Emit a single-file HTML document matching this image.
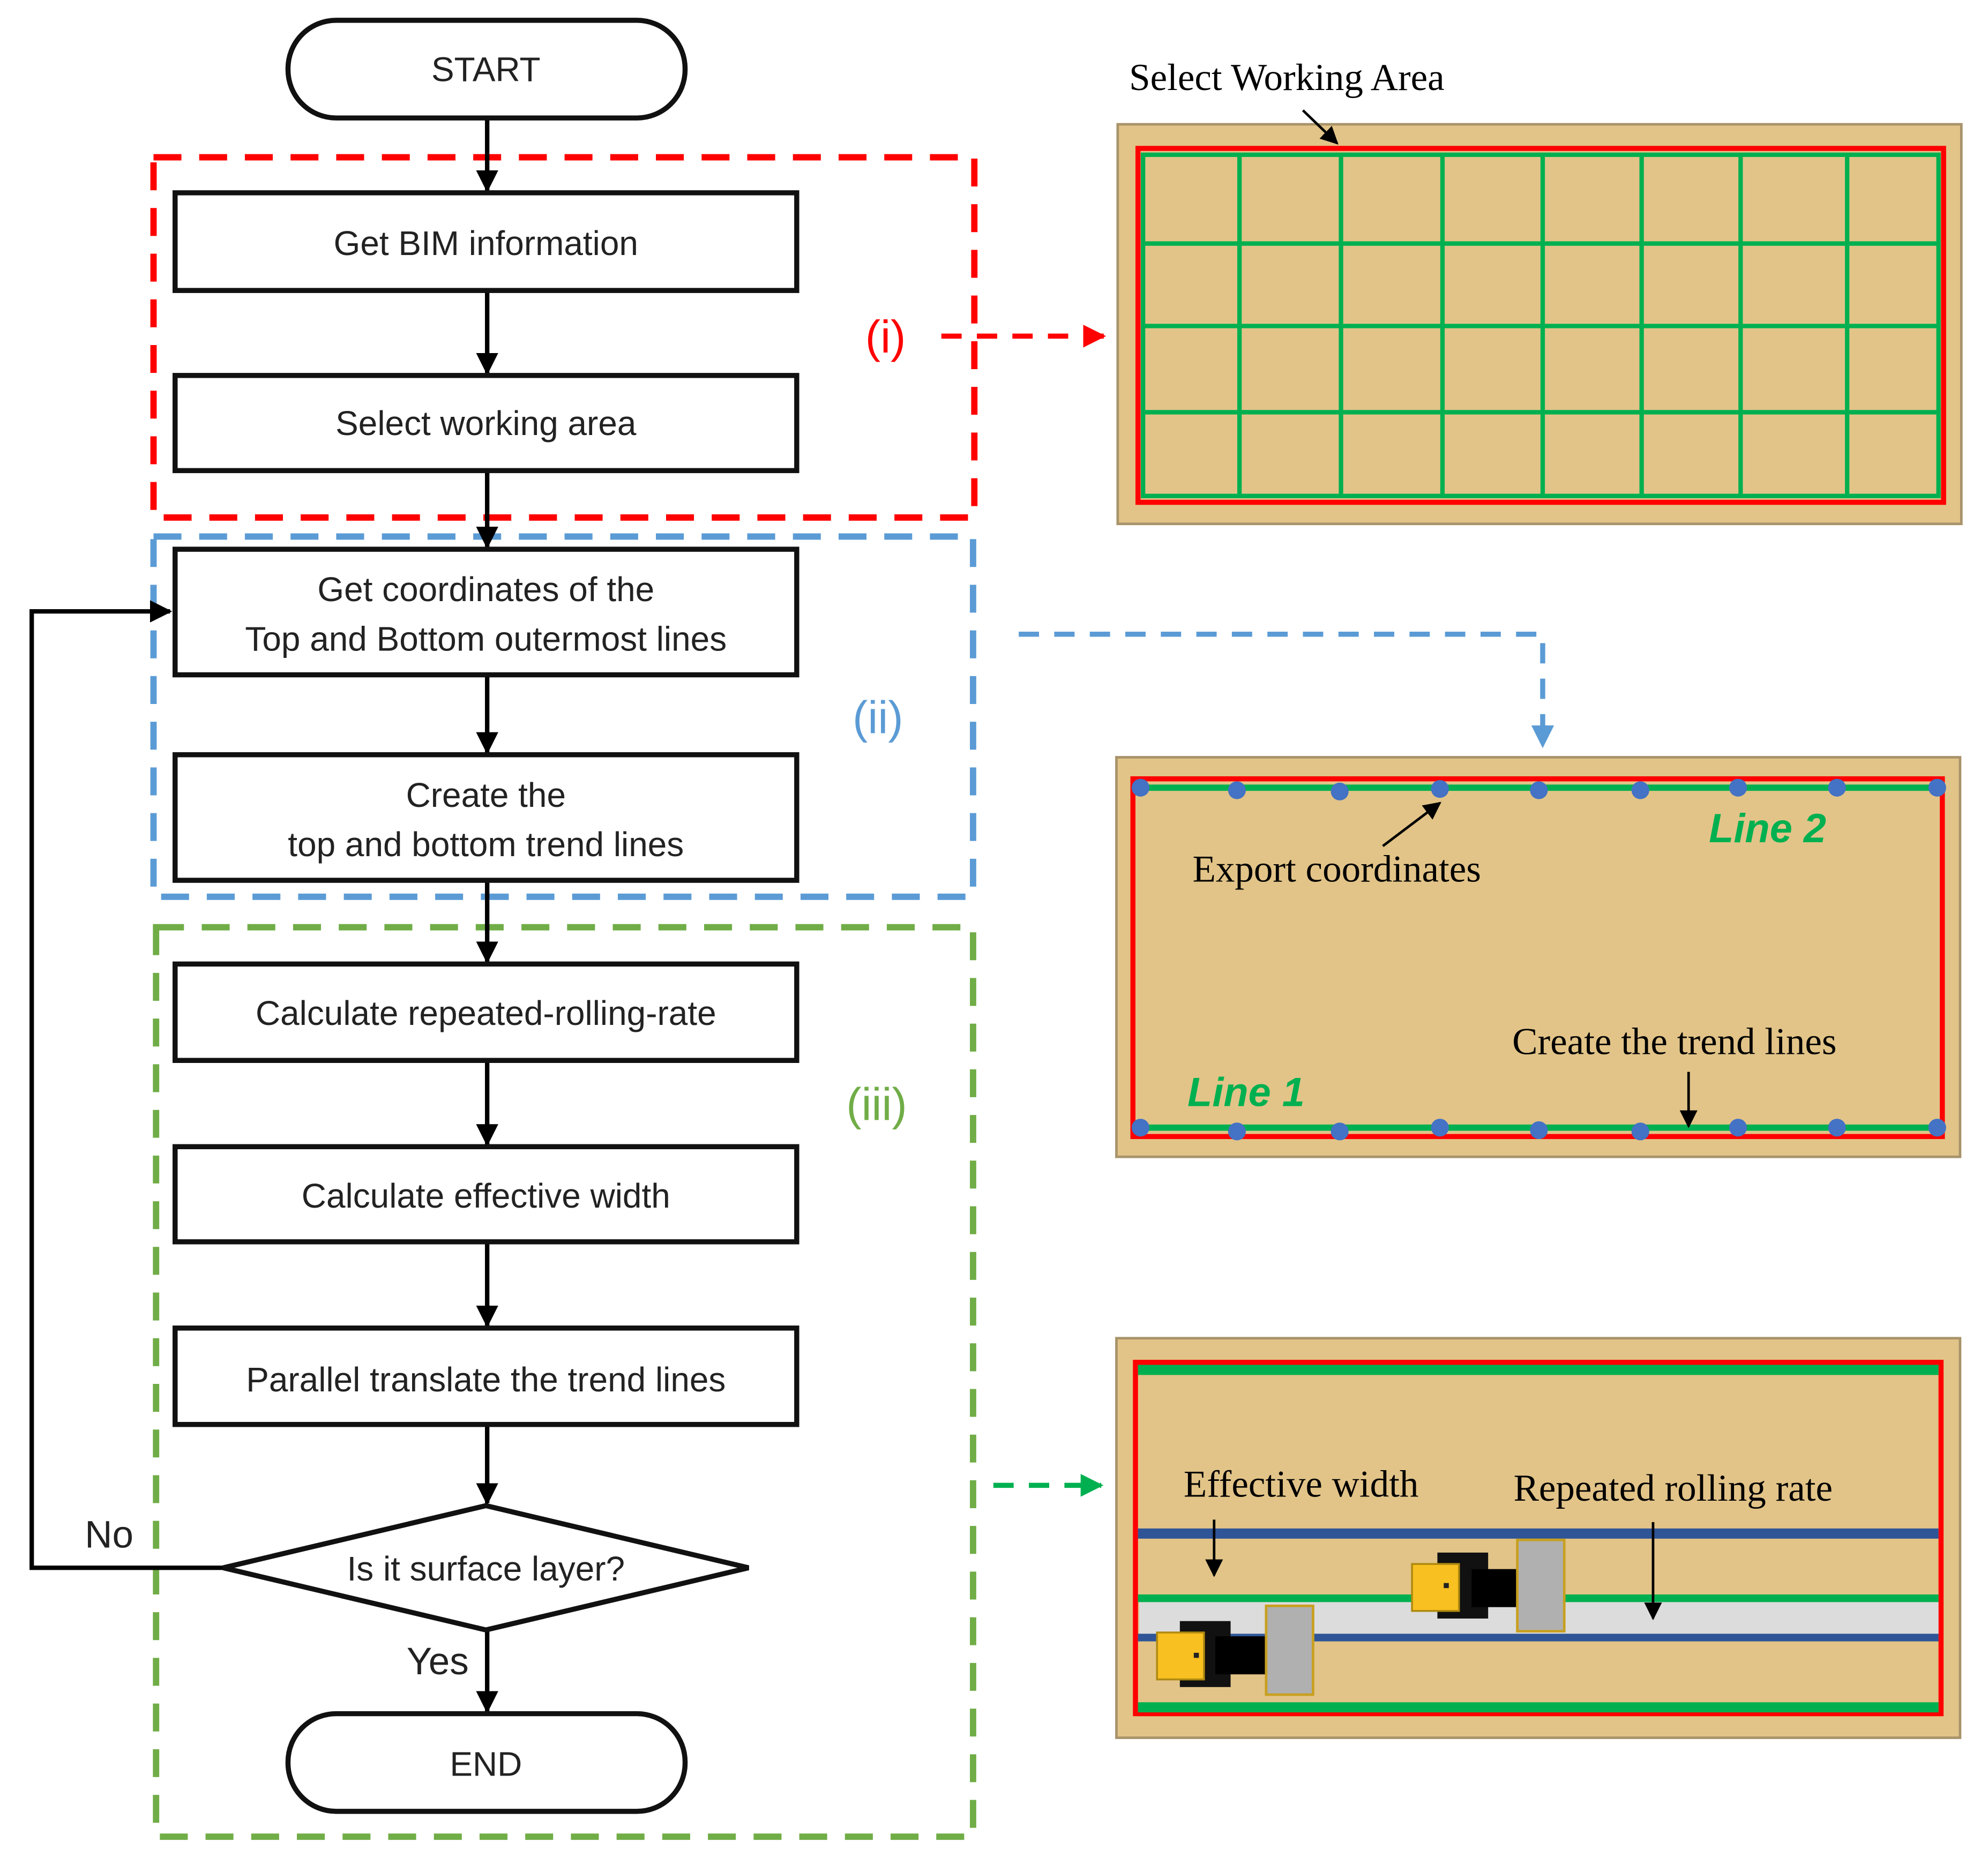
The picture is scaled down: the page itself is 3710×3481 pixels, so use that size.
<!DOCTYPE html>
<html><head><meta charset="utf-8"><style>html,body{margin:0;padding:0;background:#fff}svg{display:block}</style></head>
<body>
<svg xmlns="http://www.w3.org/2000/svg" width="3710" height="3481" viewBox="0 0 1567 1470.3">
<defs>
<marker id="ah" viewBox="0 0 10 10" refX="9" refY="5" markerWidth="5" markerHeight="5" orient="auto"><path d="M0,0L10,5L0,10z" fill="#000"/></marker>
<marker id="ar" viewBox="0 0 10 10" refX="9" refY="5" markerWidth="4.5" markerHeight="4.5" orient="auto"><path d="M0,0L10,5L0,10z" fill="#f00"/></marker>
<marker id="ab" viewBox="0 0 10 10" refX="9" refY="5" markerWidth="4.5" markerHeight="4.5" orient="auto"><path d="M0,0L10,5L0,10z" fill="#5b9bd5"/></marker>
<marker id="ag" viewBox="0 0 10 10" refX="9" refY="5" markerWidth="4.5" markerHeight="4.5" orient="auto"><path d="M0,0L10,5L0,10z" fill="#00b050"/></marker>
<marker id="as" viewBox="0 0 10 10" refX="9" refY="5" markerWidth="7" markerHeight="7" orient="auto"><path d="M0,0L10,5L0,10z" fill="#000"/></marker>
</defs>
<g font-family="Liberation Sans, sans-serif" font-size="27" fill="#222" text-anchor="middle">
<rect x="121" y="124" width="647" height="284" fill="none" stroke="#f00" stroke-width="5" stroke-dasharray="22,14"/>
<rect x="121" y="423" width="646" height="284" fill="none" stroke="#5b9bd5" stroke-width="5" stroke-dasharray="22,14"/>
<rect x="123" y="731" width="644" height="717" fill="none" stroke="#70ad47" stroke-width="5" stroke-dasharray="22,14"/>
<g stroke="#000" stroke-width="3.5" fill="none">
<line x1="384" y1="93" x2="384" y2="150" marker-end="url(#ah)"/>
<line x1="384" y1="229" x2="384" y2="294" marker-end="url(#ah)"/>
<line x1="384" y1="371" x2="384" y2="431" marker-end="url(#ah)"/>
<line x1="384" y1="532" x2="384" y2="593" marker-end="url(#ah)"/>
<line x1="384" y1="694" x2="384" y2="758" marker-end="url(#ah)"/>
<line x1="384" y1="836" x2="384" y2="902" marker-end="url(#ah)"/>
<line x1="384" y1="979" x2="384" y2="1045" marker-end="url(#ah)"/>
<line x1="384" y1="1123" x2="384" y2="1185" marker-end="url(#ah)"/>
<line x1="384" y1="1285" x2="384" y2="1349" marker-end="url(#ah)"/>
<polyline points="176,1236 25,1236 25,482 134,482" marker-end="url(#ah)"/>
</g>
<g fill="#fff" stroke="#111" stroke-width="4">
<rect x="227" y="16" width="313" height="77" rx="38"/>
<rect x="138" y="152" width="490" height="77"/>
<rect x="138" y="296" width="490" height="75"/>
<rect x="138" y="433" width="490" height="99"/>
<rect x="138" y="595" width="490" height="99"/>
<rect x="138" y="760" width="490" height="76"/>
<rect x="138" y="904" width="490" height="75"/>
<rect x="138" y="1047" width="490" height="76"/>
<polygon points="176,1236 383,1187 590,1236 383,1285"/>
<rect x="227" y="1351" width="313" height="77" rx="38"/>
</g>
<text x="383" y="64">START</text>
<text x="383" y="201">Get BIM information</text>
<text x="383" y="343">Select working area</text>
<text x="383" y="474">Get coordinates of the</text>
<text x="383" y="513">Top and Bottom outermost lines</text>
<text x="383" y="636">Create the</text>
<text x="383" y="675">top and bottom trend lines</text>
<text x="383" y="808">Calculate repeated-rolling-rate</text>
<text x="383" y="952">Calculate effective width</text>
<text x="383" y="1097">Parallel translate the trend lines</text>
<text x="383" y="1246">Is it surface layer?</text>
<text x="383" y="1400">END</text>
<text x="86" y="1220" font-size="30">No</text>
<text x="345" y="1320" font-size="30">Yes</text>
<text x="698" y="278" font-size="36" fill="#f00">(i)</text>
<text x="692" y="578" font-size="36" fill="#5b9bd5">(ii)</text>
<text x="691" y="883" font-size="36" fill="#70ad47">(iii)</text>
</g>
<line x1="742" y1="265" x2="870" y2="265" stroke="#f00" stroke-width="4" stroke-dasharray="16,12" marker-end="url(#ar)"/>
<polyline points="803,500 1216,500 1216,588" fill="none" stroke="#5b9bd5" stroke-width="4" stroke-dasharray="16,12" marker-end="url(#ab)"/>
<line x1="783" y1="1171" x2="868" y2="1171" stroke="#00b050" stroke-width="4" stroke-dasharray="16,12" marker-end="url(#ag)"/>
<g font-family="Liberation Serif, serif" font-size="30" fill="#000">
<text x="890" y="71">Select Working  Area</text>
<rect x="881" y="98" width="665" height="315" fill="#e2c488" stroke="#a8936a" stroke-width="2"/>
<rect x="897" y="117" width="635" height="279" fill="none" stroke="#f00" stroke-width="4"/>
<g stroke="#00b050" stroke-width="3.5" fill="none">
<rect x="901" y="122" width="627" height="269"/>
<line x1="977" y1="122" x2="977" y2="391"/><line x1="1057" y1="122" x2="1057" y2="391"/><line x1="1137" y1="122" x2="1137" y2="391"/><line x1="1216" y1="122" x2="1216" y2="391"/><line x1="1294" y1="122" x2="1294" y2="391"/><line x1="1372" y1="122" x2="1372" y2="391"/><line x1="1456" y1="122" x2="1456" y2="391"/>
<line x1="901" y1="192" x2="1528" y2="192"/><line x1="901" y1="257" x2="1528" y2="257"/><line x1="901" y1="325" x2="1528" y2="325"/>
</g>
<line x1="1027" y1="87" x2="1054" y2="113" stroke="#000" stroke-width="2" marker-end="url(#as)"/>
<rect x="880" y="597" width="665" height="315" fill="#e2c488" stroke="#a8936a" stroke-width="2"/>
<rect x="893" y="614" width="638" height="282" fill="none" stroke="#f00" stroke-width="4"/>
<line x1="897" y1="621" x2="1528" y2="621" stroke="#00b050" stroke-width="5"/>
<line x1="897" y1="889" x2="1528" y2="889" stroke="#00b050" stroke-width="5"/>
<g fill="#4472c4">
<circle cx="899" cy="621" r="7"/><circle cx="975" cy="623" r="7"/><circle cx="1056" cy="624" r="7"/><circle cx="1135" cy="622" r="7"/><circle cx="1213" cy="623" r="7"/><circle cx="1293" cy="623" r="7"/><circle cx="1370" cy="621" r="7"/><circle cx="1448" cy="621" r="7"/><circle cx="1527" cy="621" r="7"/>
<circle cx="899" cy="889" r="7"/><circle cx="975" cy="892" r="7"/><circle cx="1056" cy="892" r="7"/><circle cx="1135" cy="889" r="7"/><circle cx="1213" cy="891" r="7"/><circle cx="1293" cy="892" r="7"/><circle cx="1370" cy="889" r="7"/><circle cx="1448" cy="889" r="7"/><circle cx="1527" cy="889" r="7"/>
</g>
<text x="940" y="695">Export coordinates</text>
<line x1="1090" y1="667" x2="1135" y2="633" stroke="#000" stroke-width="2" marker-end="url(#as)"/>
<text x="1192" y="831">Create the trend lines</text>
<line x1="1331" y1="845" x2="1331" y2="888" stroke="#000" stroke-width="2" marker-end="url(#as)"/>
<text x="1347" y="664" font-family="Liberation Sans, sans-serif" font-size="32" font-style="italic" font-weight="bold" fill="#00b050">Line 2</text>
<text x="936" y="872" font-family="Liberation Sans, sans-serif" font-size="32" font-style="italic" font-weight="bold" fill="#00b050">Line 1</text>
<rect x="880" y="1055" width="665" height="315" fill="#e2c488" stroke="#a8936a" stroke-width="2"/>
<rect x="895" y="1074" width="635" height="277" fill="none" stroke="#f00" stroke-width="4"/>
<line x1="897" y1="1080" x2="1528" y2="1080" stroke="#00b050" stroke-width="8"/>
<line x1="897" y1="1346" x2="1528" y2="1346" stroke="#00b050" stroke-width="8"/>
<rect x="898" y="1263" width="630" height="25" fill="#dcdcdc"/>
<line x1="897" y1="1209" x2="1528" y2="1209" stroke="#2f5597" stroke-width="8"/>
<line x1="897" y1="1260" x2="1528" y2="1260" stroke="#00b050" stroke-width="6"/>
<line x1="897" y1="1291" x2="1528" y2="1291" stroke="#2f5597" stroke-width="6"/>
<text x="933" y="1180">Effective width</text>
<text x="1193" y="1183">Repeated rolling  rate</text>
<line x1="957" y1="1198" x2="957" y2="1242" stroke="#000" stroke-width="2" marker-end="url(#as)"/>
<line x1="1303" y1="1200" x2="1303" y2="1276" stroke="#000" stroke-width="2" marker-end="url(#as)"/>
<g>
<rect x="930" y="1278" width="40" height="52" fill="#111"/>
<rect x="958" y="1290" width="40" height="30" fill="#000"/>
<rect x="912" y="1287" width="37" height="37" fill="#f8c020" stroke="#b08a10" stroke-width="1.5"/>
<rect x="941" y="1303" width="4" height="4" fill="#222"/>
<rect x="998" y="1266" width="37" height="70" fill="#b0b0b0" stroke="#c8a020" stroke-width="2"/>
</g>
<g>
<rect x="1133" y="1224" width="40" height="52" fill="#111"/>
<rect x="1160" y="1237" width="38" height="30" fill="#000"/>
<rect x="1113" y="1233" width="37" height="37" fill="#f8c020" stroke="#b08a10" stroke-width="1.5"/>
<rect x="1138" y="1248" width="4" height="4" fill="#222"/>
<rect x="1196" y="1214" width="37" height="72" fill="#b0b0b0" stroke="#c8a020" stroke-width="2"/>
</g>
</g>
</svg>
</body></html>
